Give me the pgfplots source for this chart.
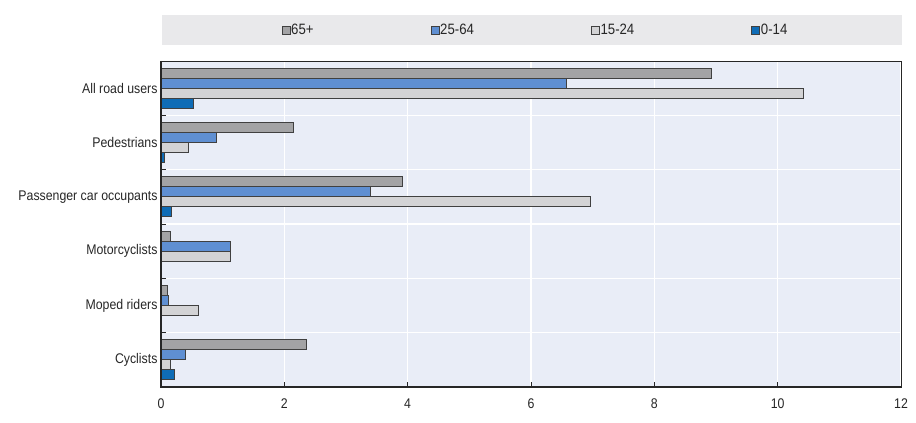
\documentclass[border=0pt]{standalone}
\usepackage{pgfplots}
\pgfplotsset{compat=1.18}
\usepackage{fontspec}
\setmainfont{Liberation Sans}[FakeStretch=0.88]
\definecolor{cA}{HTML}{A3A3A5}
\definecolor{cB}{HTML}{5F8FD2}
\definecolor{cC}{HTML}{D3D3D5}
\definecolor{cD}{HTML}{0F6CB6}
\definecolor{bg}{HTML}{E9EDF7}
\definecolor{lg}{HTML}{E9E9EB}
\begin{document}
\begin{tikzpicture}[x=1pt,y=1pt]
\useasboundingbox (0,0) rectangle (916,423);
\fill[lg] (162,378) rectangle (902,408);
\begin{axis}[
 at={(161pt,36pt)}, anchor=south west,
 width=740pt, height=326pt, scale only axis,
 xbar=0pt, bar width=10pt,
 xmin=0, xmax=12, ymin=-0.5, ymax=5.5, y dir=reverse,
 xtick={0,2,...,12},
 ytick={0.5,1.5,2.5,3.5,4.5}, yticklabels={,,,,,},
 extra y ticks={0,1,2,3,4,5},
 extra y tick labels={All road users, Pedestrians, Passenger car occupants, Motorcyclists, Moped riders, Cyclists},
 extra y tick style={major tick length=0pt, grid=none},
 xmajorgrids, ymajorgrids,
 grid style={white, line width=1.3pt},
 axis background/.style={fill=bg},
 tick align=inside, xtick pos=bottom, ytick pos=left,
 major tick length=5pt,
 tick style={black!85, line width=0.8pt},
 axis line style={black!85, line width=1pt},
 /pgf/number format/assume math mode=true,
 tick label style={font=\fontsize{14}{16}\selectfont, black!85},
 x tick label style={yshift=-8.5pt},
 every axis plot/.append style={draw=black!75, line width=0.7pt},
 legend image code/.code={\draw[#1, draw=black!75, line width=0.6pt] (0pt,-4pt) rectangle (8pt,4pt);},
 reverse legend,
 legend style={at={(0.5,1)}, anchor=center, yshift=31pt, xshift=4pt, draw=none, fill=none,
   font=\fontsize{15}{17}\selectfont, text=black!85, legend columns=4,
   /tikz/every even column/.append style={column sep=116pt}, nodes={inner sep=1pt}},
]
\addplot[fill=cD] coordinates {(0.53,0) (0.06,1) (0.16,2) (0.22,5)};
\addlegendentry{0-14}
\addplot[fill=cC] coordinates {(10.41,0) (0.45,1) (6.97,2) (1.12,3) (0.61,4) (0.15,5)};
\addlegendentry{15-24}
\addplot[fill=cB] coordinates {(6.57,0) (0.89,1) (3.40,2) (1.12,3) (0.12,4) (0.39,5)};
\addlegendentry{25-64}
\addplot[fill=cA] coordinates {(8.93,0) (2.15,1) (3.91,2) (0.15,3) (0.10,4) (2.36,5)};
\addlegendentry{65+}
\end{axis}
\draw[black!85, line width=1.6pt] (161,362) -- (161,36) -- (901,36);
\end{tikzpicture}
\end{document}
